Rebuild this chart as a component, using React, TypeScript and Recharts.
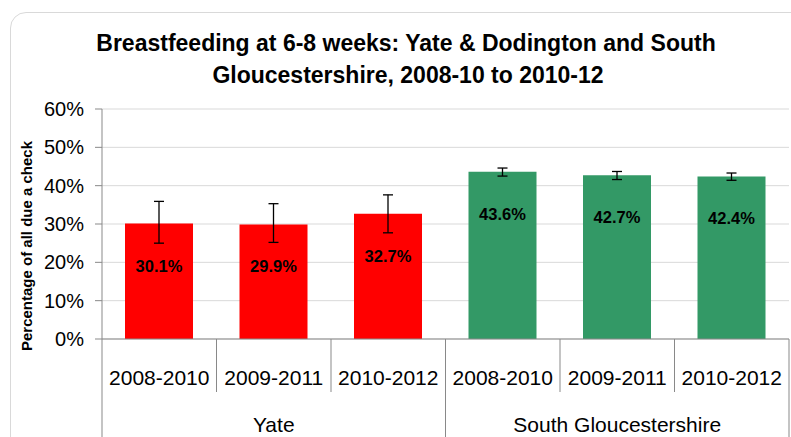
import React from 'react';
import { BarChart, Bar, XAxis, YAxis, CartesianGrid, Cell, ErrorBar, LabelList } from 'recharts';

const years = ['2008-2010', '2009-2011', '2010-2012', '2008-2010', '2009-2011', '2010-2012'];
const groups = ['Yate', 'Yate', 'Yate', 'South Gloucestershire', 'South Gloucestershire', 'South Gloucestershire'];
const values = [30.1, 29.9, 32.7, 43.6, 42.7, 42.4];
const errLow = [5.1, 4.7, 5.0, 1.1, 1.1, 1.0];
const errHigh = [5.8, 5.4, 4.9, 1.0, 1.0, 0.9];
const yTicks = [0, 10, 20, 30, 40, 50, 60];
const groupNames = ['Yate', 'South Gloucestershire'];
const groupColors = ['#FF0000', '#339966'];

const W = 791;
const H = 437;
const MARGIN = { top: 109, right: 2, left: 32, bottom: 0 };
const Y_AXIS_W = 70;
const X_AXIS_H = 98;
const PLOT_LEFT = MARGIN.left + Y_AXIS_W;
const PLOT_W = W - PLOT_LEFT - MARGIN.right;
const PLOT_BOTTOM = H - MARGIN.bottom - X_AXIS_H;
const BAND = PLOT_W / years.length;
const FONT = '"Liberation Sans", Arial, sans-serif';
const AXIS_COLOR = '#898989';

const data = years.map((y, i) => ({
  idx: i,
  year: y,
  group: groups[i],
  value: values[i],
  err: [errLow[i], errHigh[i]],
}));

const isGroupStart = (i: number) => i === 0 || groups[i] !== groups[i - 1];
const isGroupMiddle = (i: number) => {
  const g = groups[i];
  const members = groups.map((gg, j) => (gg === g ? j : -1)).filter((j) => j >= 0);
  return members[Math.floor(members.length / 2)] === i;
};

const XTick = (props: any) => {
  const { x, payload } = props;
  const i = Number(payload.value);
  const left = x - BAND / 2;
  const right = x + BAND / 2;
  return (
    <g>
      <line
        x1={left}
        x2={left}
        y1={PLOT_BOTTOM}
        y2={isGroupStart(i) ? H : PLOT_BOTTOM + 53}
        stroke={AXIS_COLOR}
        strokeWidth={1}
      />
      {i === years.length - 1 && (
        <line x1={right} x2={right} y1={PLOT_BOTTOM} y2={H} stroke={AXIS_COLOR} strokeWidth={1} />
      )}
      <text x={x} y={PLOT_BOTTOM + 38} textAnchor="middle" dominantBaseline="central" fontSize={21} fontFamily={FONT} fill="#000">
        {years[i]}
      </text>
      {isGroupMiddle(i) && (
        <text x={x} y={PLOT_BOTTOM + 85} textAnchor="middle" dominantBaseline="central" fontSize={21} fontFamily={FONT} fill="#000">
          {groups[i]}
        </text>
      )}
    </g>
  );
};

const BarLabel = (props: any) => {
  const { x, y, width, value } = props;
  return (
    <text
      x={Number(x) + Number(width) / 2}
      y={Number(y) + 42}
      textAnchor="middle"
      dominantBaseline="central"
      fontWeight="bold"
      fontSize={16.5}
      fontFamily={FONT}
      fill="#000"
    >
      {Number(value).toFixed(1)}%
    </text>
  );
};

export default function App() {
  return (
    <div style={{ position: 'absolute', left: 0, top: 0, width: W, height: H, overflow: 'hidden', background: '#fff' }}>
      <div
        style={{
          position: 'absolute',
          left: 10,
          top: 12,
          width: 830,
          height: 470,
          border: '1.5px solid #d9d9d9',
          borderRadius: 16,
          boxSizing: 'border-box',
        }}
      />
      <div style={{ position: 'absolute', left: 0, top: 0 }}>
        <BarChart width={W} height={H} data={data} margin={MARGIN}>
          <CartesianGrid vertical={false} stroke="#d9d9d9" strokeWidth={1} />
          <XAxis
            dataKey="idx"
            type="category"
            interval={0}
            height={X_AXIS_H}
            axisLine={{ stroke: AXIS_COLOR }}
            tickLine={false}
            tick={<XTick />}
          />
          <YAxis
            width={Y_AXIS_W}
            domain={[0, 60]}
            ticks={yTicks}
            interval={0}
            tickFormatter={(v: number) => `${v}%`}
            axisLine={{ stroke: AXIS_COLOR }}
            tickLine={{ stroke: AXIS_COLOR }}
            tickSize={7}
            tickMargin={11}
            tick={{ fontSize: 20, fontFamily: FONT, fill: '#000' }}
          />
          <Bar dataKey="value" barSize={68} isAnimationActive={false}>
            {data.map((d, i) => (
              <Cell key={i} fill={groupColors[groupNames.indexOf(d.group)]} />
            ))}
            <ErrorBar dataKey="err" width={5} stroke="#000" strokeWidth={1.3} direction="y" />
            <LabelList dataKey="value" content={<BarLabel />} />
          </Bar>
        </BarChart>
      </div>
      <svg width={W} height={H} style={{ position: 'absolute', left: 0, top: 0, pointerEvents: 'none' }}>
        <text x={406} y={43} textAnchor="middle" dominantBaseline="central" fontSize={23} fontWeight="bold" fontFamily={FONT} fill="#000">
          Breastfeeding at 6-8 weeks: Yate &amp; Dodington and South
        </text>
        <text x={408} y={75} textAnchor="middle" dominantBaseline="central" fontSize={23} fontWeight="bold" fontFamily={FONT} fill="#000">
          Gloucestershire, 2008-10 to 2010-12
        </text>
        <text
          x={26}
          y={246}
          transform="rotate(-90 26 246)"
          textAnchor="middle"
          dominantBaseline="central"
          fontSize={15}
          fontWeight="bold"
          fontFamily={FONT}
          fill="#000"
        >
          Percentage of all due a check
        </text>
      </svg>
    </div>
  );
}
